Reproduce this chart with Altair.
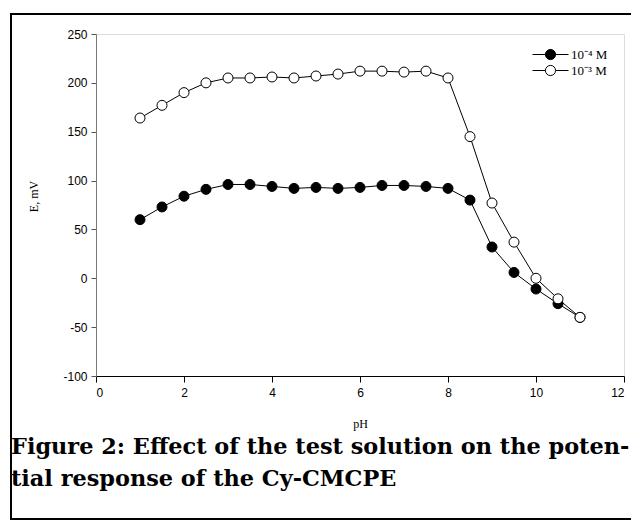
import altair as alt
import pandas as pd

# ---- data ----
ph_values = [1, 1.5, 2, 2.5, 3, 3.5, 4, 4.5, 5, 5.5, 6, 6.5, 7, 7.5, 8, 8.5, 9, 9.5, 10, 10.5, 11]
e_1e4 = [60, 73, 84, 91, 96, 96, 94, 92, 93, 92, 93, 95, 95, 94, 92, 80, 32, 6, -11, -26, -40]
e_1e3 = [164, 177, 190, 200, 205, 205, 206, 205, 207, 209, 212, 212, 211, 212, 205, 145, 77, 37, 0, -21, -40]
series_labels = ["10\u207b\u2074 M", "10\u207b\u00b3 M"]
series_fills = ["black", "white"]
x_ticks = [0, 2, 4, 6, 8, 10, 12]
y_ticks = [-100, -50, 0, 50, 100, 150, 200, 250]
caption_lines = [
    "Figure 2: Effect of the test solution on the poten-",
    "tial response of the Cy-CMCPE",
]

rows = []
for lab, vals in zip(series_labels, [e_1e4, e_1e3]):
    for p, v in zip(ph_values, vals):
        rows.append({"pH": p, "E": v, "series": lab})
df = pd.DataFrame(rows)

W, H = 528, 342

x_enc = alt.X(
    "pH:Q",
    scale=alt.Scale(domain=[0, 12], nice=False, zero=False),
    axis=alt.Axis(
        values=x_ticks, title="pH", grid=False,
        domainColor="black", tickColor="black", tickSize=6,
        labelFont="Liberation Sans", labelFontSize=12, labelColor="black", labelPadding=5,
        labelExpr="'' + datum.value",
        titleFont="Liberation Serif", titleFontSize=12, titleFontWeight="normal", titleColor="black",
        titleX=264, titleY=47, titleBaseline="middle",
    ),
)
y_enc = alt.Y(
    "E:Q",
    scale=alt.Scale(domain=[-100, 250], nice=False, zero=False),
    axis=alt.Axis(
        values=y_ticks, title="E, mV", grid=False,
        domainColor="#7a7a7a", tickColor="#555555", tickSize=5,
        labelFont="Liberation Sans", labelFontSize=12, labelColor="black", labelPadding=4,
        labelExpr="'' + datum.value",
        titleFont="Liberation Serif", titleFontSize=12, titleFontWeight="normal", titleColor="black",
        titleX=-63, titleY=162, titleBaseline="middle", titleAlign="center", titleAngle=270,
    ),
)

lines = alt.Chart(df).mark_line(color="black", strokeWidth=1).encode(
    x=x_enc, y=y_enc, detail="series:N"
)

legend_path = "M-3,0L-0.85,0M0.85,0L3,0M-0.85,0A0.85,0.85,0,1,1,0.85,0A0.85,0.85,0,1,1,-0.85,0Z"

points = alt.Chart(df).mark_circle(size=100, stroke="black", strokeWidth=1, opacity=1).encode(
    x=x_enc,
    y=y_enc,
    fill=alt.Fill(
        "series:N",
        scale=alt.Scale(domain=series_labels, range=series_fills),
        legend=alt.Legend(
            title=None, orient="none", legendX=448, legendY=14,
            symbolType=legend_path, symbolSize=144,
            symbolStrokeColor="black", symbolStrokeWidth=1,
            labelFont="Liberation Serif", labelFontSize=13, labelColor="black",
            labelOffset=14, rowPadding=1, padding=0,
        ),
    ),
    order=alt.Order("series:N", sort="descending"),
)

caption = alt.Chart(pd.DataFrame({"k": [0]})).mark_text(
    text=caption_lines, font="DejaVu Serif", fontWeight="bold", fontSize=22.4,
    align="left", baseline="alphabetic", lineHeight=32, color="black",
).encode(x=alt.value(-85), y=alt.value(420))

frame = alt.Chart(pd.DataFrame({"k": [0]})).mark_rect(
    fill="white", fillOpacity=0, stroke="black", strokeWidth=2
).encode(x=alt.value(-85), x2=alt.value(600), y=alt.value(-20), y2=alt.value(485))

chart = alt.layer(frame, lines, points, caption).properties(
    width=W, height=H,
    autosize=alt.AutoSizeParams(type="none"),
    padding={"left": 88, "top": 26, "right": 7, "bottom": 145},
).configure_view(stroke="black", strokeWidth=1).configure(background="white")

chart.save("out.html", embed_options={"renderer": "svg", "actions": False})
